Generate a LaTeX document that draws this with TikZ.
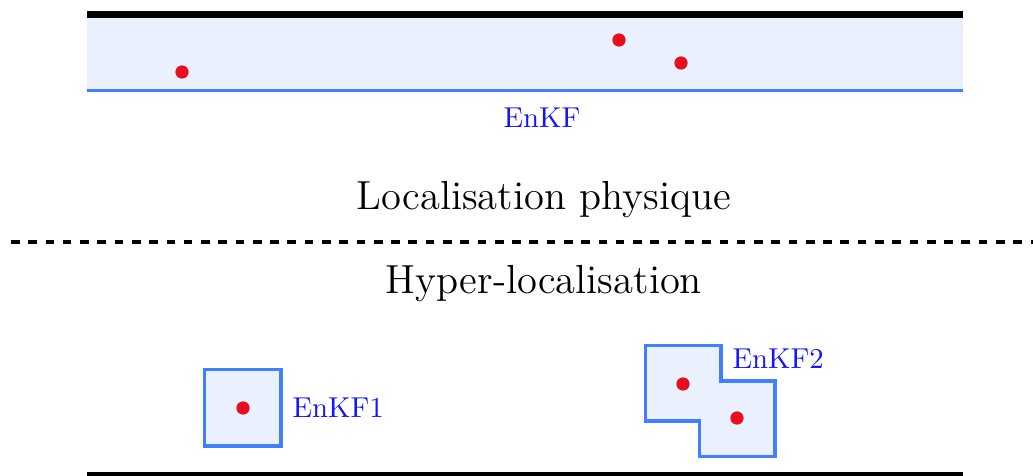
\documentclass[tikz,border=0pt]{standalone}
\definecolor{bandstroke}{RGB}{64,128,255}
\definecolor{bandfill}{RGB}{234,240,254}
\definecolor{dotred}{RGB}{232,14,30}
\definecolor{labelblue}{RGB}{20,20,255}
\begin{document}
\begin{tikzpicture}[x=0.3472pt,y=-0.3472pt,
  region/.style={draw=bandstroke,fill=bandfill,line width=1.05pt},
  obs/.style={circle,fill=dotred,inner sep=0pt,minimum size=4.6pt},
  lbl/.style={text=labelblue,inner sep=0pt},
  title/.style={font=\fontsize{14.1pt}{17pt}\selectfont,inner sep=0pt},
  wall/.style={line width=2.4pt,black}]
\useasboundingbox (0,0) rectangle (1033,476);
% top band
\fill[bandfill] (87,17) rectangle (963,90.5);
\draw[bandstroke,line width=1.1pt] (87,90.5) -- (963,90.5);
\draw[wall] (87,14.5) -- (963,14.5);
\node[obs] (o1) at (182,72) {};
\node[obs] (o2) at (619,40) {};
\node[obs] (o3) at (681,63) {};
\node[lbl] (enkf) at (542,118) {EnKF};
% titles and separator
\node[title] (phys) at (544,200) {Localisation physique};
\draw[dashed,line width=1.3pt] (11,242) -- (1033,242);
\node[title] (hyper) at (544,284) {Hyper-localisation};
% EnKF1
\draw[region] (204.5,369.5) rectangle (281,446);
\node[obs] (o4) at (243,408) {};
\node[lbl,anchor=west] (enkf1) at (292,408) {EnKF1};
% EnKF2
\draw[region] (645.5,345.5) -- (721,345.5) -- (721,381) -- (775,381) -- (775,456.5)
  -- (699.5,456.5) -- (699.5,421) -- (645.5,421) -- cycle;
\node[obs] (o5) at (683,384) {};
\node[obs] (o6) at (737,418) {};
\node[lbl,anchor=west] (enkf2) at (732,359) {EnKF2};
% bottom wall
\draw[wall] (87,475.5) -- (963,475.5);
\end{tikzpicture}
\end{document}
